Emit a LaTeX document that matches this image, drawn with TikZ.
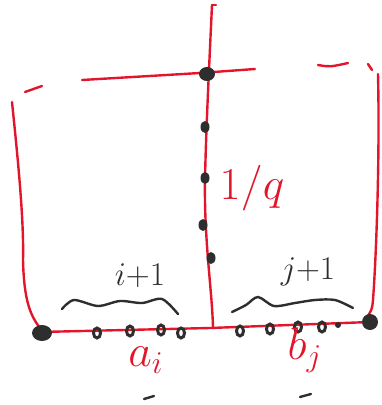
\documentclass[tikz,border=0pt]{standalone}
\usepackage{amsmath,amssymb}
\usepackage{tikz}
\definecolor{pen}{HTML}{E3152B}
\definecolor{ink}{HTML}{2E2E2E}
\tikzset{
  redline/.style={pen, line width=2.4pt, line cap=round, line join=round},
  bigdot/.style={ink, fill=ink},
  smalldot/.style={ink, line width=3pt},
  wave/.style={ink, line width=2.4pt, line cap=round},
  inklabel/.style={ink, font=\huge, scale=1.6, transform shape},
  penlabel/.style={pen, font=\huge, scale=2.2, transform shape}
}
\begin{document}
\begin{tikzpicture}[x=1pt,y=-1pt]
\useasboundingbox (0,0) rectangle (382,405);
% outer box, drawn by hand
\draw[redline] (82,80) -- (200,73) -- (255,69);
\draw[redline] (25,92) -- (42,86);
\draw[redline] (318,65) .. controls (330,67) .. (348,63);
\draw[redline] (368,64) -- (372,70);
\draw[redline] (12,102) .. controls (18,160) and (24,220) .. (23,260) .. controls (24,300) and (30,315) .. (40,328);
\draw[redline] (378,74) .. controls (380,160) and (376,260) .. (373,300) .. controls (372,310) .. (365,320);
% base line and middle axis
\draw[redline] (40,332) -- (210,328) -- (370,322);
\draw[redline] (212,5) -- (216,5);
\draw[redline] (212,5) .. controls (209,70) and (206,130) .. (205,180) .. controls (204,240) and (212,290) .. (213,327);
% dots on the axis
\fill[bigdot] (207,74) ellipse (8 and 7);
\foreach \x/\y in {205/127,205/178,203/225,211/258} { \fill[bigdot] (\x,\y) ellipse (4.5 and 6); }
% corner dots
\fill[bigdot] (42,333) ellipse (10 and 8);
\fill[bigdot] (370,322) ellipse (8 and 8);
% dots on the base
\foreach \x/\y in {97/333,130/331,161/330,181/333,240/331,270/329,298/327,322/327} { \draw[smalldot] (\x,\y) ellipse (3.5 and 5); }
\fill[bigdot] (338,325) circle (3);
% counting waves
\draw[wave] plot[smooth] coordinates {(62,309) (74,300) (98,306) (120,301) (142,303) (162,299) (178,314)};
\draw[wave] plot[smooth] coordinates {(232,312) (246,305) (258,297) (274,306) (295,303) (315,300) (335,300) (353,308)};
\node[inklabel] (countA) at (140,276) {$i{+}1$};
\node[inklabel] (countB) at (308,272) {$j{+}1$};
\node[penlabel] (step) at (252,188) {$1/q$};
\node[penlabel] (lenA) at (146,360) {$a_i$};
\node[penlabel] (lenB) at (305,350) {$b_j$};
\draw[wave] (144,399) -- (154,396);
\draw[wave] (300,397) -- (311,394);
\end{tikzpicture}
\end{document}
